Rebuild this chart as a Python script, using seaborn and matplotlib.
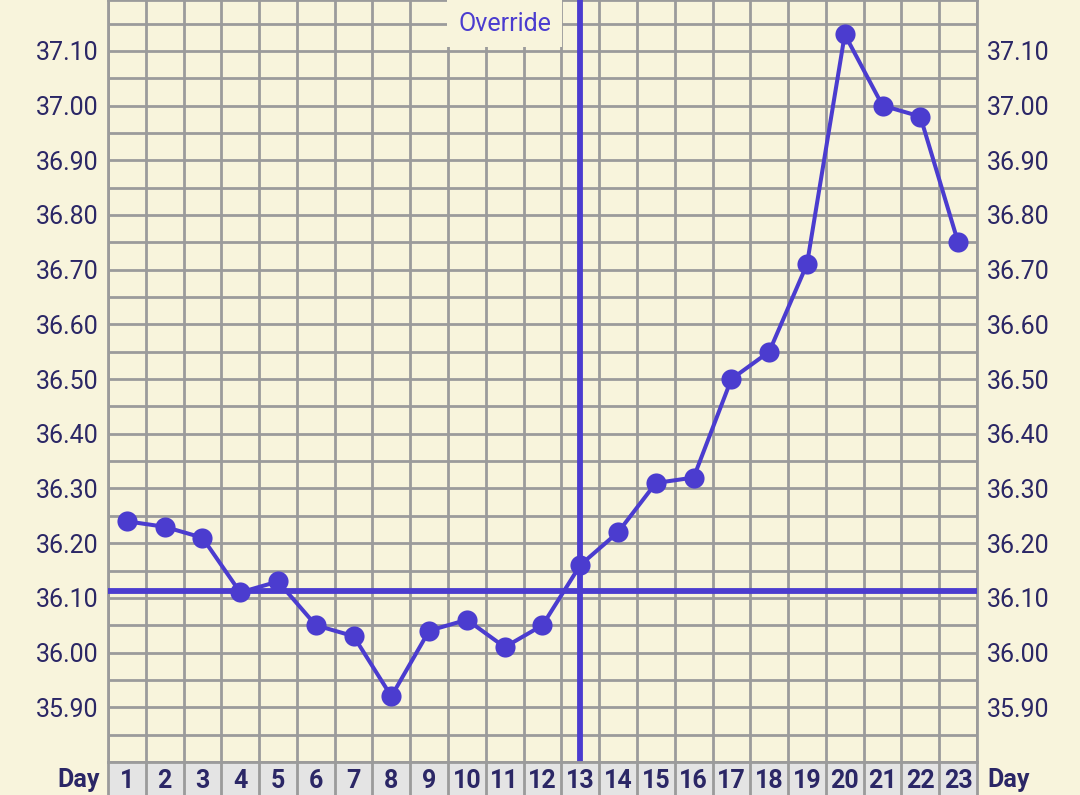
import matplotlib
matplotlib.use("Agg")
import matplotlib.pyplot as plt
import seaborn as sns
import pandas as pd

days = list(range(1, 24))
temps = [36.24, 36.23, 36.21, 36.11, 36.13, 36.05, 36.03, 35.92, 36.04, 36.06,
         36.01, 36.05, 36.16, 36.22, 36.31, 36.32, 36.50, 36.55, 36.71, 37.13,
         37.00, 36.98, 36.75]
cover_temp = 36.113
override_day = 13
ytick_vals = [35.90, 36.00, 36.10, 36.20, 36.30, 36.40, 36.50, 36.60,
              36.70, 36.80, 36.90, 37.00, 37.10]

bg = "#f8f4dc"
grid_c = "#9b9b9b"
line_c = "#4b3ccf"
text_c = "#2b2766"

sns.set_theme(style="white")
plt.rcParams["font.family"] = ["Roboto", "DejaVu Sans"]

df = pd.DataFrame({"day": days, "temp": temps})

fig = plt.figure(figsize=(10.8, 7.95), dpi=100)
fig.patch.set_facecolor(bg)

W, H = 1080, 795
ax = fig.add_axes([108 / W, 33 / H, (977 - 108) / W, 762 / H])
ax.set_facecolor(bg)

ax.set_xlim(0.5, 23.5)
ax.set_ylim(35.80, 37.193)

ax.set_xticks([d + 0.5 for d in range(0, 24)], minor=True)
ax.set_xticks([])
ax.set_yticks(ytick_vals)
ax.set_yticks([v + 0.05 for v in ytick_vals] + [35.85], minor=True)
ax.set_yticklabels([f"{v:.2f}" for v in ytick_vals])
ax.grid(True, which="both", color=grid_c, linewidth=2.0)
ax.grid(False, which="major", axis="x")
ax.set_axisbelow(True)
for s in ax.spines.values():
    s.set_color(grid_c)
    s.set_linewidth(2.0)
ax.tick_params(axis="y", which="both", left=False, right=False, length=0,
               labelleft=True, labelright=True, labelsize=18,
               labelcolor=text_c, pad=7)
ax.tick_params(axis="x", which="both", bottom=False, top=False, length=0)

ax.axhline(cover_temp, color=line_c, linewidth=4.2, zorder=3)
ax.axvline(override_day, color=line_c, linewidth=4.2, zorder=3)

sns.lineplot(data=df, x="day", y="temp", ax=ax, color=line_c, linewidth=2.9,
             marker="o", markersize=14.5, markeredgewidth=0, zorder=4)
ax.set_xlabel("")
ax.set_ylabel("")

ax.text(11.0, 37.15, "Override", color=line_c, fontsize=18, ha="center",
        va="center", zorder=5,
        bbox=dict(boxstyle="square,pad=0.45", facecolor=bg, edgecolor="none"))

# day row
ax2 = fig.add_axes([108 / W, -5 / H, (977 - 108) / W, 38 / H])
ax2.set_facecolor("#e4e4e4")
ax2.set_xlim(0.5, 23.5)
ax2.set_ylim(0, 1)
ax2.set_xticks([])
ax2.set_yticks([])
for b in range(1, 23):
    ax2.axvline(b + 0.5, color=grid_c, linewidth=2.0)
for s in ax2.spines.values():
    s.set_color(grid_c)
    s.set_linewidth(2.0)
for d in days:
    ax2.text(d, 0.5, str(d), ha="center", va="center", fontsize=18,
             fontweight="bold", color=text_c)

fig.text(100 / W, (795 - 780) / H, "Day", ha="right", va="center",
         fontsize=18, fontweight="bold", color=text_c)
fig.text(987 / W, (795 - 780) / H, "Day", ha="left", va="center",
         fontsize=18, fontweight="bold", color=text_c)

fig.savefig("out.png", dpi=100, facecolor=bg)
